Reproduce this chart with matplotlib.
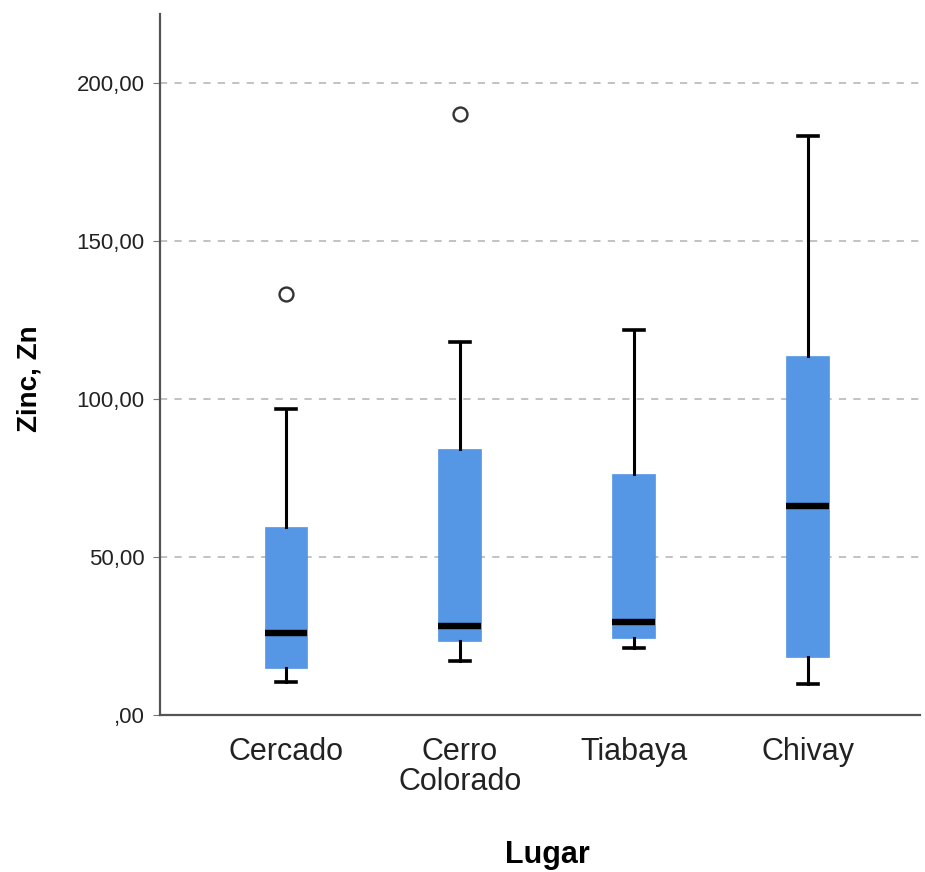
import matplotlib
matplotlib.use("Agg")
import matplotlib.pyplot as plt
from matplotlib.ticker import FuncFormatter

categories = ["Cercado", "Cerro\nColorado", "Tiabaya", "Chivay"]
whislo = [10.4, 17.1, 21.2, 9.8]
q1 = [14.9, 23.4, 24.4, 18.5]
med = [25.9, 28.2, 29.5, 66.1]
q3 = [59.5, 84.2, 76.4, 113.7]
whishi = [96.8, 118.0, 121.8, 183.3]
outliers = [[133.2], [190.2], [], []]
yticks = [0, 50, 100, 150, 200]

plt.rcParams['font.family'] = ['Liberation Sans', 'DejaVu Sans']

fig = plt.figure(figsize=(9.25, 8.72), dpi=100)
ax = fig.add_axes([0.173, 0.180, 0.8216, 0.804])

stats = []
for i, c in enumerate(categories):
    stats.append(dict(label=c, whislo=whislo[i], q1=q1[i], med=med[i],
                      q3=q3[i], whishi=whishi[i], fliers=outliers[i]))

ax.bxp(stats, positions=range(len(categories)), widths=0.247,
       patch_artist=True, showfliers=True,
       boxprops=dict(facecolor='#5596e5', edgecolor='#5596e5', linewidth=0.5),
       medianprops=dict(color='black', linewidth=4.6, solid_capstyle='butt'),
       whiskerprops=dict(color='black', linewidth=2.2),
       capprops=dict(color='black', linewidth=2.6),
       capwidths=0.12,
       flierprops=dict(marker='o', markersize=10, markerfacecolor='white',
                       markeredgecolor='#333333', markeredgewidth=1.7))

ax.set_xlim(-0.724, 3.644)
ax.set_ylim(0, 221.8)
ax.set_yticks(yticks)
ax.yaxis.set_major_formatter(FuncFormatter(
    lambda v, p: ",00" if v == 0 else f"{v:.2f}".replace('.', ',')))
for y in yticks[1:]:
    ax.axhline(y, color='#bdbdbd', linestyle=(0, (4, 4)), linewidth=1.3, zorder=0)

for s in ['top', 'right']:
    ax.spines[s].set_visible(False)
for s in ['left', 'bottom']:
    ax.spines[s].set_color('#555555')
    ax.spines[s].set_linewidth(1.6)

ax.tick_params(axis='y', labelsize=16, length=5, color='#777777', pad=6, labelcolor='#222222')
ax.tick_params(axis='x', labelsize=22, length=0, pad=16, labelcolor='#222222')
ax.set_xticks(range(len(categories)))
ax.set_xticklabels(categories, linespacing=1.0)

ax.set_ylabel("Zinc, Zn", fontsize=20, fontweight='bold')
ax.yaxis.set_label_coords(-0.155, 0.48)
ax.set_xlabel("Lugar", fontsize=22, fontweight='bold')
ax.xaxis.set_label_coords(0.51, -0.178)
ax.xaxis.label.set_va('top')

fig.savefig("out.png", dpi=100)
